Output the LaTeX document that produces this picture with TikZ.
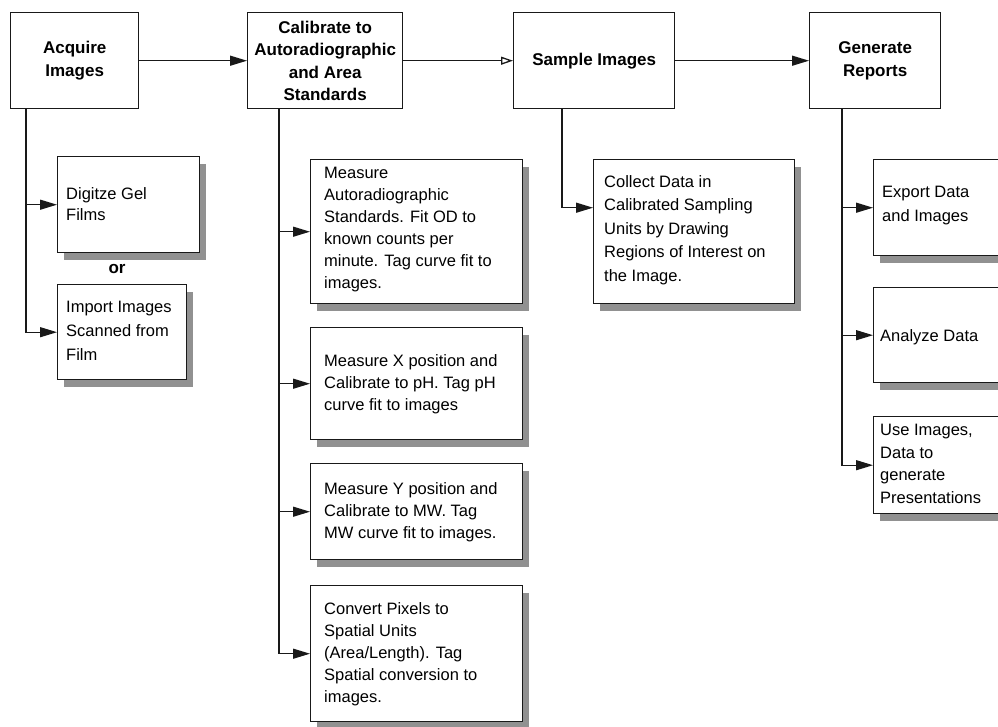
\documentclass[tikz,border=0pt]{standalone}
\usepackage{fontspec}
\setmainfont{Liberation Sans}
\usetikzlibrary{arrows.meta,shadows}
\definecolor{shadowgray}{RGB}{145,145,145}
\definecolor{linecol}{RGB}{25,25,25}
\begin{document}
\begin{tikzpicture}[x=1pt,y=-1pt,
  box/.style={draw=linecol, line width=1.4pt, fill=white, inner sep=0pt, anchor=north west},
  sbox/.style={box, drop shadow={shadow xshift=6pt, shadow yshift=-7pt, opacity=1, fill=shadowgray}},
  title/.style={font=\bfseries\fontsize{17}{22.5}\selectfont, align=center},
  body/.style={font=\fontsize{16.5}{22}\selectfont, align=left, anchor=north west, inner sep=0pt},
  bodywide/.style={font=\fontsize{16.5}{23.5}\selectfont, align=left, anchor=north west, inner sep=0pt},
  arr/.style={draw=linecol, line width=1.3pt, -{Triangle[length=17pt,width=10pt]}},
  oarr/.style={draw=linecol, line width=1.3pt, -{Triangle[open,length=12pt,width=8pt]}}
]
\clip (0,0) rectangle (998,726);
\fill[white] (0,0) rectangle (998,726);

% top row
\node[box, title, minimum width=128pt, minimum height=96pt] (acq) at (10,12) {Acquire\\Images};
\node[box, title, minimum width=155pt, minimum height=96pt] (cal) at (247,12) {Calibrate to\\Autoradiographic\\and Area\\Standards};
\node[box, title, minimum width=161pt, minimum height=96pt] (sam) at (513,12) {Sample Images};
\node[box, title, minimum width=131pt, minimum height=96pt] (gen) at (809,12) {Generate\\Reports};

% acquire branch
\node[sbox, minimum width=142pt, minimum height=96pt] (dig) at (57,156) {};
\node[font=\fontsize{16.5}{21}\selectfont, align=left, anchor=north west, inner sep=0pt] (digT) at (66,187) {Digitze Gel\\Films};
\node[font=\bfseries\fontsize{17}{20}\selectfont, inner sep=0pt] (or) at (117,269) {or};
\node[sbox, minimum width=129pt, minimum height=95pt] (imp) at (57,284) {};
\node[font=\fontsize{16.5}{24}\selectfont, align=left, anchor=north west, inner sep=0pt] (impT) at (66,301) {Import Images\\Scanned from\\Film};

% calibrate branch
\node[sbox, minimum width=212pt, minimum height=144pt] (mA) at (310,159) {};
\node[body] (mAT) at (324,167) {Measure\\Autoradiographic\\Standards. Fit OD to\\known counts per\\minute. Tag curve fit to\\images.};
\node[sbox, minimum width=212pt, minimum height=112pt] (mX) at (310,327) {};
\node[body] (mXT) at (324,354) {Measure X position and\\Calibrate to pH. Tag pH\\curve fit to images};
\node[sbox, minimum width=212pt, minimum height=96pt] (mY) at (310,463) {};
\node[body] (mYT) at (324,482) {Measure Y position and\\Calibrate to MW. Tag\\MW curve fit to images.};
\node[sbox, minimum width=212pt, minimum height=136pt] (cnv) at (310,585) {};
\node[body] (cnvT) at (324,602) {Convert Pixels to\\Spatial Units\\(Area/Length). Tag\\Spatial conversion to\\images.};

% sample branch
\node[sbox, minimum width=201pt, minimum height=144pt] (col) at (593,159) {};
\node[bodywide] (colT) at (604,175) {Collect Data in\\Calibrated Sampling\\Units by Drawing\\Regions of Interest on\\the Image.};

% generate branch
\node[sbox, minimum width=150pt, minimum height=96pt] (exp) at (873,159) {};
\node[font=\fontsize{16.5}{24}\selectfont, align=left, anchor=north west, inner sep=0pt] (expT) at (882,186) {Export Data\\and Images};
\node[sbox, minimum width=150pt, minimum height=95pt] (ana) at (873,287) {};
\node[body] (anaT) at (880,329) {Analyze Data};
\node[sbox, minimum width=150pt, minimum height=97pt] (use) at (873,416) {};
\node[font=\fontsize{16.5}{22.5}\selectfont, align=left, anchor=north west, inner sep=0pt] (useT) at (880,424) {Use Images,\\Data to\\generate\\Presentations};

% main flow
\draw[arr] (acq) -- (cal);
\draw[oarr] (cal) -- (sam);
\draw[arr] (sam) -- (gen);

% branch trunks
\coordinate (acqB) at ([xshift=16pt]acq.south west);
\coordinate (calB) at ([xshift=32pt]cal.south west);
\coordinate (samB) at ([xshift=49pt]sam.south west);
\coordinate (genB) at ([xshift=33pt]gen.south west);

\draw[arr] (acqB) |- (dig);
\draw[arr] (acqB) |- (imp);

\draw[arr] (calB) |- (mA);
\draw[arr] (calB) |- (mX);
\draw[arr] (calB) |- (mY);
\draw[arr] (calB) |- (cnv);

\coordinate (colIn) at ([yshift=24pt]col.west);
\draw[arr] (samB) |- (colIn);

\draw[arr] (genB) |- (exp);
\draw[arr] (genB) |- (ana);
\draw[arr] (genB) |- (use);
\end{tikzpicture}
\end{document}
